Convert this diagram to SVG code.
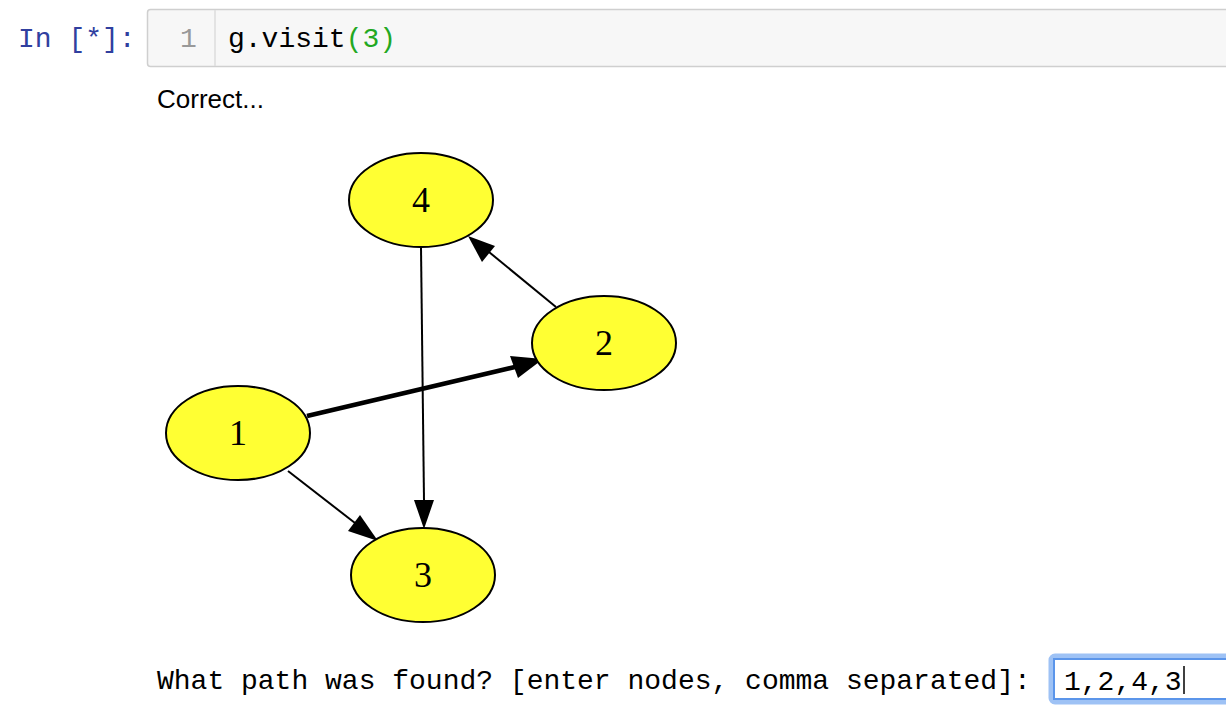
<svg xmlns="http://www.w3.org/2000/svg" width="1226" height="714" viewBox="0 0 1226 714">
<style>
.mono{font-family:"Liberation Mono","DejaVu Sans Mono",monospace;font-size:28px}
.node ellipse{fill:#ffff33;stroke:#000;stroke-width:2}
.node text{font-family:"Liberation Serif","Times New Roman",serif;font-size:36px;text-anchor:middle;fill:#000}
.edge{stroke:#000;stroke-width:2;fill:none}
.edge.bold{stroke-width:4.5}
</style>
<rect width="1226" height="714" fill="#fff"/>
<text x="18" y="47" class="mono" fill="#303f9f">In [*]:</text>
<rect x="147.5" y="9.5" width="1090" height="57" rx="3" fill="#f7f7f7" stroke="#cfcfcf" stroke-width="1.5"/>
<line x1="215" y1="10" x2="215" y2="66" stroke="#dddddd" stroke-width="1.5"/>
<text x="180" y="47" class="mono" fill="#999">1</text>
<text x="228" y="47" class="mono" fill="#000">g.visit<tspan fill="#22a822">(3)</tspan></text>
<text x="157" y="108" font-family="Liberation Sans, Arial, sans-serif" font-size="26" fill="#000">Correct...</text>
<g id="connectors">
<line class="edge" x1="421" y1="248" x2="424" y2="500"/>
<polygon points="414,500 434,500 424,529" fill="#000"/>
<line class="edge" x1="556" y1="307" x2="489" y2="252"/>
<polygon points="482,262 495,246 468,236" fill="#000"/>
<line class="edge bold" x1="307" y1="416" x2="515" y2="367"/>
<polygon points="510,356 518,378 543,359" fill="#000"/>
<line class="edge" x1="288" y1="471" x2="355" y2="523"/>
<polygon points="348,531 360,515 378,541" fill="#000"/>
</g>
<g id="node4" class="node"><ellipse cx="421" cy="200" rx="72" ry="47"/><text x="421" y="212">4</text></g>
<g id="node2" class="node"><ellipse cx="604" cy="343" rx="72" ry="47"/><text x="604" y="355">2</text></g>
<g id="node1" class="node"><ellipse cx="238" cy="433" rx="72" ry="47"/><text x="238" y="445">1</text></g>
<g id="node3" class="node"><ellipse cx="423" cy="575" rx="72" ry="47"/><text x="423" y="587">3</text></g>
<text x="157" y="689" class="mono" fill="#000">What path was found? [enter nodes, comma separated]:</text>
<rect x="1051" y="656" width="190" height="46" rx="4" fill="none" stroke="#9ec2f5" stroke-width="5"/>
<rect x="1054" y="659" width="190" height="40" fill="#fff" stroke="#5b95ea" stroke-width="2"/>
<text x="1064" y="690" class="mono" fill="#000">1,2,4,3</text>
<line x1="1184" y1="666" x2="1184" y2="694" stroke="#000" stroke-width="1.5"/>
</svg>
